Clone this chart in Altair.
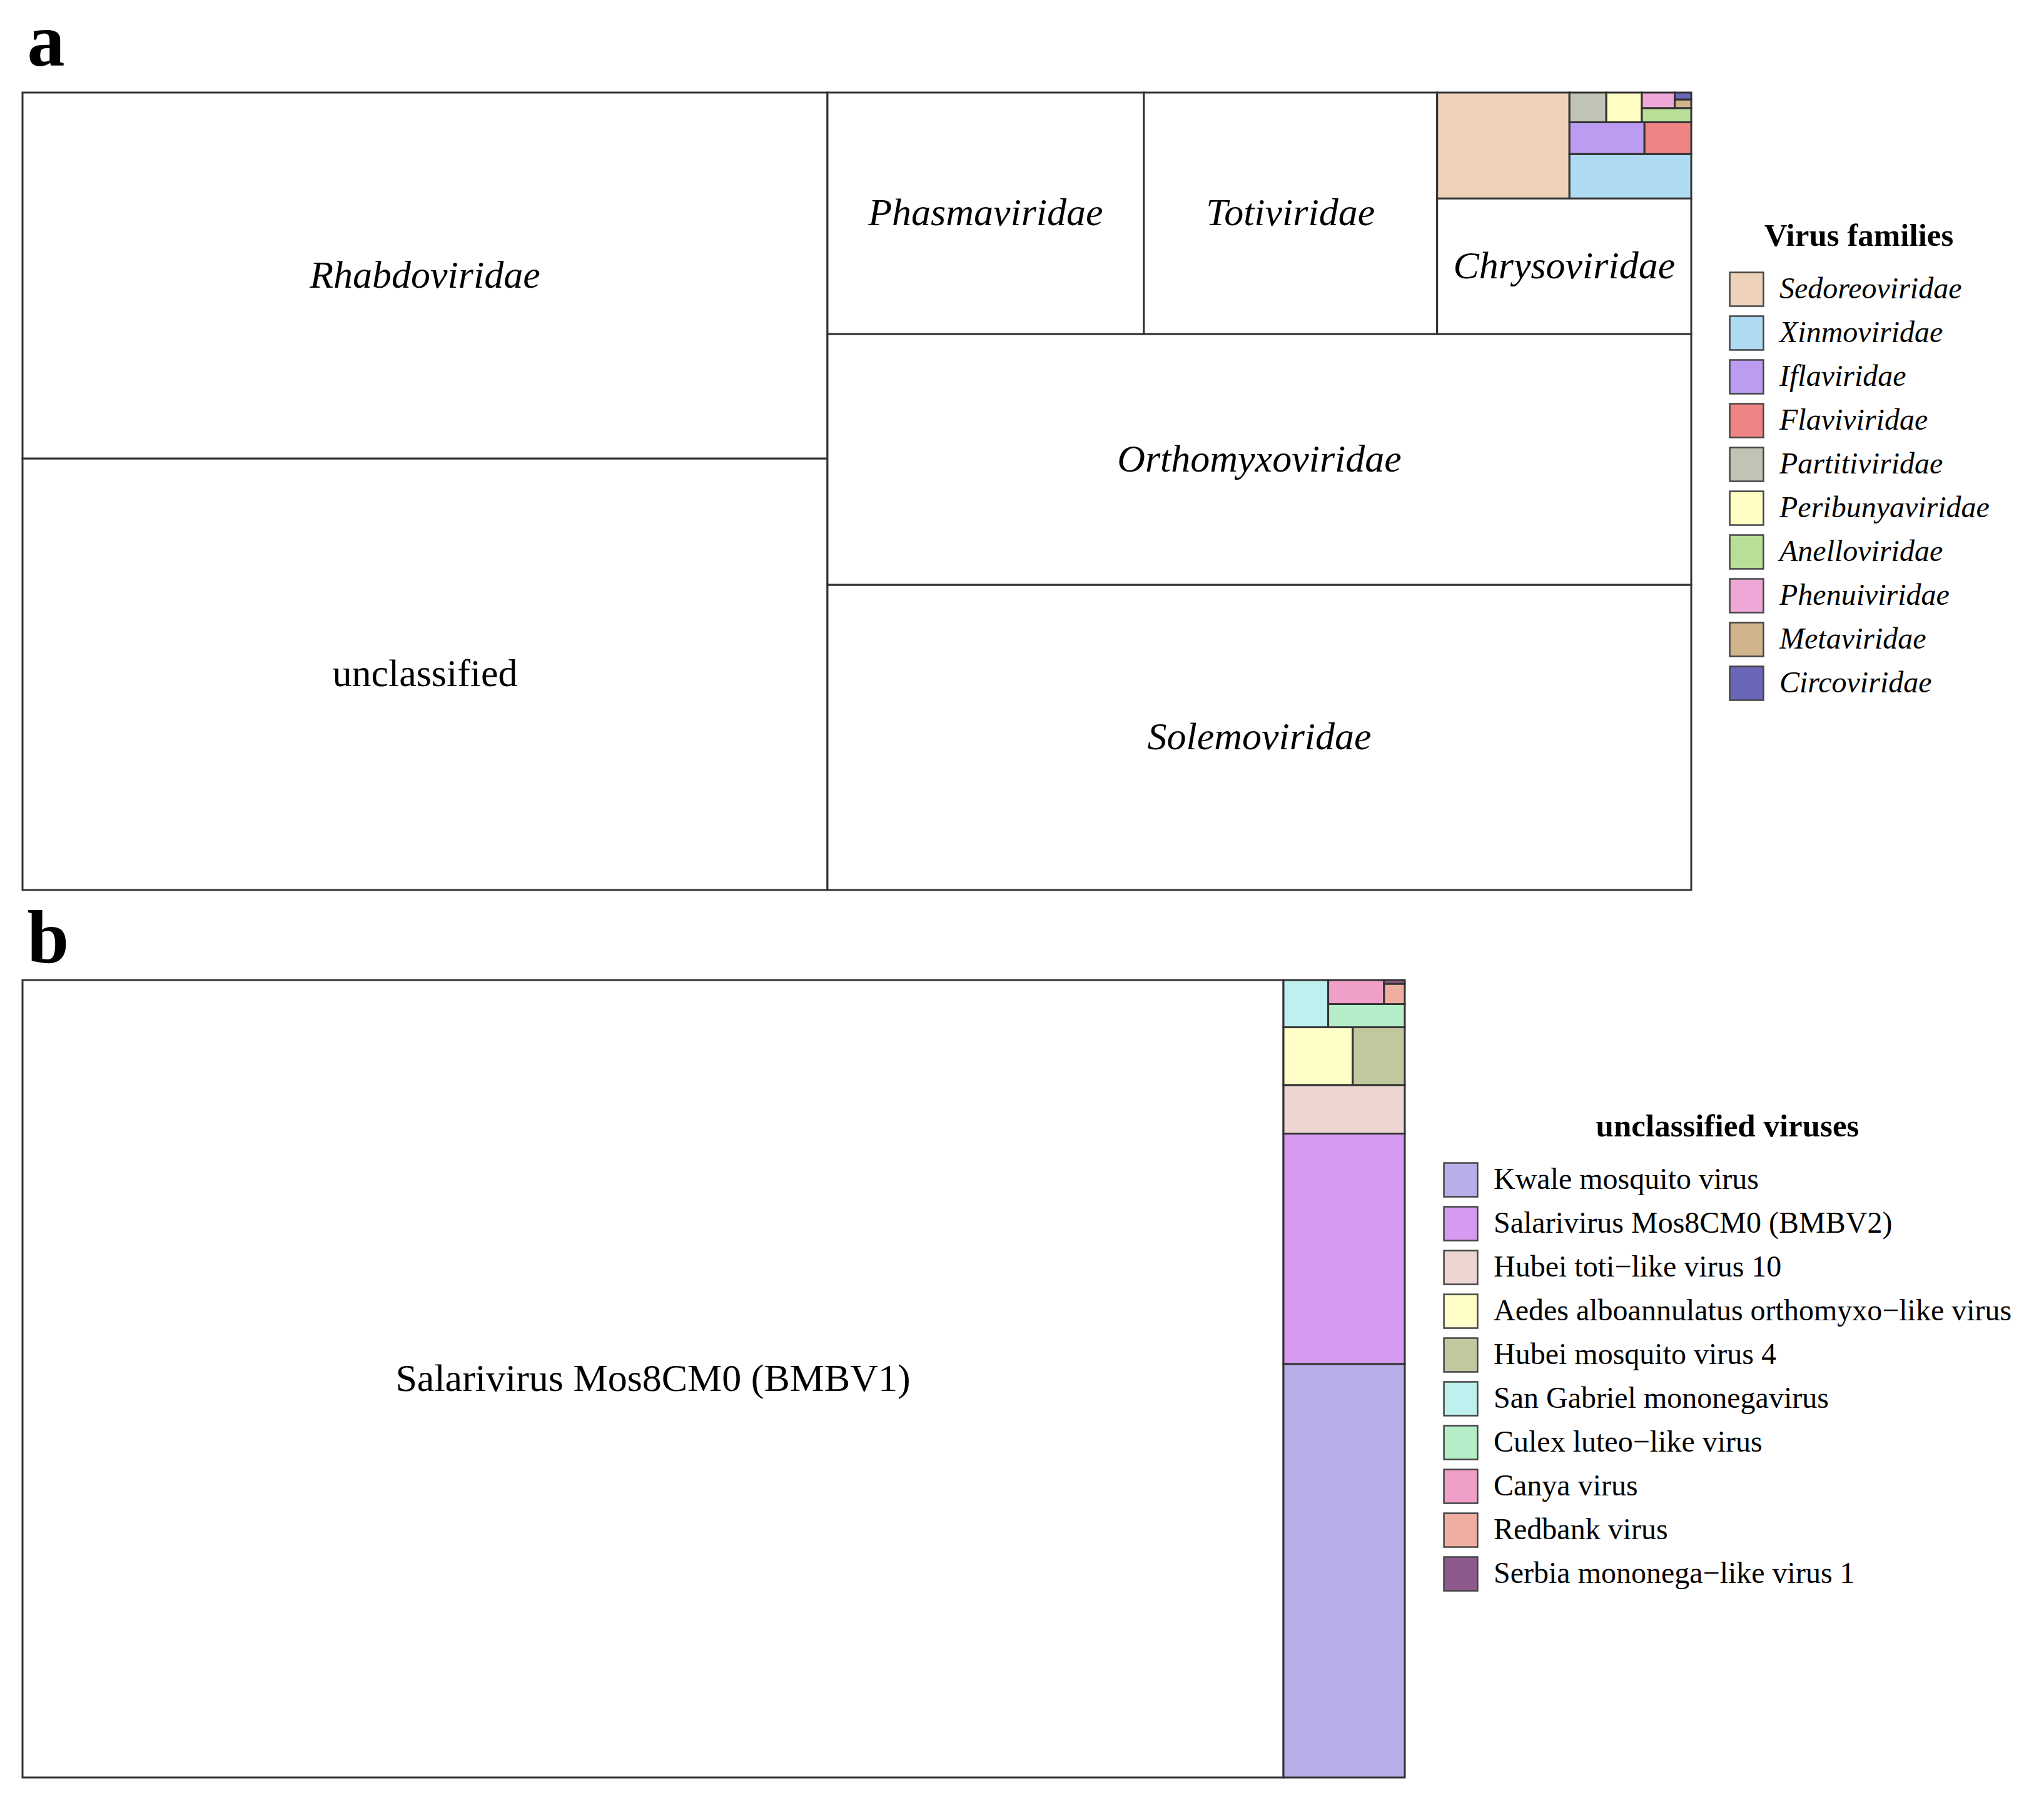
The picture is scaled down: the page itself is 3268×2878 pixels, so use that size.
import altair as alt
import pandas as pd

SERIF = "Liberation Serif"
LINE = "#333333"

# ---------------- Panel a: virus families (relative abundance) ----------------
fam_names = ["unclassified", "Rhabdoviridae", "Solemoviridae", "Orthomyxoviridae",
             "Phasmaviridae", "Totiviridae", "Chrysoviridae", "Sedoreoviridae",
             "Xinmoviridae", "Iflaviridae", "Flaviviridae", "Partitiviridae",
             "Peribunyaviridae", "Anelloviridae", "Phenuiviridae", "Metaviridae",
             "Circoviridae"]
fam_values = [8880, 7529, 6739, 5538, 1953, 1810, 881, 358,
              138, 61, 38, 28, 27, 18, 13, 3.6, 2.9]

legend_a = ["Sedoreoviridae", "Xinmoviridae", "Iflaviridae", "Flaviviridae",
            "Partitiviridae", "Peribunyaviridae", "Anelloviridae", "Phenuiviridae",
            "Metaviridae", "Circoviridae"]
colors_a = ["#EDD1B9", "#AEDAF2", "#BB9CF0", "#F08484", "#C0C4B4",
            "#FFFDC4", "#B9DE98", "#EEA8D8", "#D2B48C", "#6B67B8"]
italic_labels_a = ["Rhabdoviridae", "Solemoviridae", "Orthomyxoviridae",
                   "Phasmaviridae", "Totiviridae", "Chrysoviridae"]
plain_labels_a = ["unclassified"]

# nesting of the treemap: "h" = side by side (left to right), "v" = stacked (bottom to top)
tree_a = ("h", [("v", ["unclassified", "Rhabdoviridae"]),
                ("v", ["Solemoviridae", "Orthomyxoviridae",
                       ("h", ["Phasmaviridae", "Totiviridae",
                              ("v", ["Chrysoviridae",
                                     ("h", ["Sedoreoviridae",
                                            ("v", ["Xinmoviridae",
                                                   ("h", ["Iflaviridae", "Flaviviridae"]),
                                                   ("h", ["Partitiviridae", "Peribunyaviridae",
                                                          ("v", ["Anelloviridae",
                                                                 ("h", ["Phenuiviridae",
                                                                        ("v", ["Metaviridae",
                                                                               "Circoviridae"])])])])])])])])])])

# ---------------- Panel b: unclassified viruses ----------------
unc_names = ["Salarivirus Mos8CM0 (BMBV1)", "Kwale mosquito virus",
             "Salarivirus Mos8CM0 (BMBV2)", "Hubei toti\u2212like virus 10",
             "Aedes alboannulatus orthomyxo\u2212like virus", "Hubei mosquito virus 4",
             "San Gabriel mononegavirus", "Culex luteo\u2212like virus", "Canya virus",
             "Redbank virus", "Serbia mononega\u2212like virus 1"]
unc_values = [26127, 1304, 726, 153, 104, 78, 55, 46, 35, 11, 2]

legend_b = unc_names[1:]
colors_b = ["#B8AEE8", "#D69BF0", "#EDD5D2", "#FFFDC8", "#C2C89E",
            "#BDF0EE", "#B5EDC8", "#F0A0C8", "#EFAFA0", "#8E5A8E"]
plain_labels_b = ["Salarivirus Mos8CM0 (BMBV1)"]

tree_b = ("h", ["Salarivirus Mos8CM0 (BMBV1)",
                ("v", ["Kwale mosquito virus", "Salarivirus Mos8CM0 (BMBV2)",
                       "Hubei toti\u2212like virus 10",
                       ("h", ["Aedes alboannulatus orthomyxo\u2212like virus",
                              "Hubei mosquito virus 4"]),
                       ("h", ["San Gabriel mononegavirus",
                              ("v", ["Culex luteo\u2212like virus",
                                     ("h", ["Canya virus",
                                            ("v", ["Redbank virus",
                                                   "Serbia mononega\u2212like virus 1"])])])])])])


# ---------------- slice-and-dice treemap layout computed from the values ----------------
def node_total(node, vals):
    if isinstance(node, str):
        return vals[node]
    return sum(node_total(c, vals) for c in node[1])


def layout(node, vals, x0, y0, x1, y1, out):
    if isinstance(node, str):
        out.append({"name": node, "x": x0, "x2": x1, "y": y0, "y2": y1,
                    "cx": (x0 + x1) / 2, "cy": (y0 + y1) / 2})
        return
    d, kids = node
    tot = node_total(node, vals)
    pos = x0 if d == "h" else y0
    for k in kids:
        frac = node_total(k, vals) / tot
        if d == "h":
            nxt = pos + frac * (x1 - x0)
            layout(k, vals, pos, y0, nxt, y1, out)
        else:
            nxt = pos + frac * (y1 - y0)
            layout(k, vals, x0, pos, x1, nxt, out)
        pos = nxt


def treemap_df(names, values, tree):
    vals = dict(zip(names, values))
    out = []
    layout(tree, vals, 0.0, 0.0, 1.0, 1.0, out)
    return pd.DataFrame(out)


def panel(df, legend_names, legend_colors, italic_labels, plain_labels, title,
          letter, w, h, leg_x, leg_y, leg_italic, title_offset):
    sx = alt.Scale(domain=[0, 1], nice=False, zero=False)
    sy = alt.Scale(domain=[0, 1], nice=False, zero=False)
    base = alt.Chart(df)
    enc = dict(x=alt.X("x:Q", scale=sx, axis=None), x2="x2:Q",
               y=alt.Y("y:Q", scale=sy, axis=None), y2="y2:Q")
    white = base.transform_filter(
        alt.FieldOneOfPredicate(field="name", oneOf=italic_labels + plain_labels)
    ).mark_rect(fill="white", stroke=LINE, strokeWidth=3).encode(**enc)
    colored = base.transform_filter(
        alt.FieldOneOfPredicate(field="name", oneOf=legend_names)
    ).mark_rect(stroke=LINE, strokeWidth=3, opacity=1).encode(
        color=alt.Color("name:N",
                        scale=alt.Scale(domain=legend_names, range=legend_colors),
                        legend=alt.Legend(
                            title=title, orient="none", legendX=leg_x, legendY=leg_y,
                            titleFont=SERIF, titleFontSize=51, titleFontWeight="bold",
                            titleColor="black", titleAnchor="middle", titlePadding=30,
                            titleLimit=0,
                            labelFont=SERIF, labelFontSize=48,
                            labelFontStyle="italic" if leg_italic else "normal",
                            labelColor="black", labelOffset=24, labelLimit=0,
                            symbolType="square", symbolSize=2900,
                            symbolStrokeColor="#444444", symbolStrokeWidth=2.5,
                            symbolOpacity=1, rowPadding=5, padding=0)),
        **enc)
    layers = [white, colored]
    if italic_labels:
        layers.append(base.transform_filter(
            alt.FieldOneOfPredicate(field="name", oneOf=italic_labels)
        ).mark_text(font=SERIF, fontSize=62, fontStyle="italic", color="black",
                    baseline="middle", align="center").encode(
            x=alt.X("cx:Q", scale=sx, axis=None),
            y=alt.Y("cy:Q", scale=sy, axis=None), text="name:N"))
    if plain_labels:
        layers.append(base.transform_filter(
            alt.FieldOneOfPredicate(field="name", oneOf=plain_labels)
        ).mark_text(font=SERIF, fontSize=62, color="black",
                    baseline="middle", align="center").encode(
            x=alt.X("cx:Q", scale=sx, axis=None),
            y=alt.Y("cy:Q", scale=sy, axis=None), text="name:N"))
    return alt.layer(*layers).properties(
        width=w, height=h,
        title=alt.TitleParams(letter, anchor="start", font=SERIF, fontSize=120,
                              fontWeight="bold", color="black", dx=9,
                              offset=title_offset))


df_a = treemap_df(fam_names, fam_values, tree_a)
df_b = treemap_df(unc_names, unc_values, tree_b)

pa = panel(df_a, legend_a, colors_a, italic_labels_a, plain_labels_a, "Virus families",
           "a", 2668, 1275, 2728, 205, True, 17)
pb = panel(df_b, legend_b, colors_b, [], plain_labels_b, "unclassified viruses",
           "b", 2210, 1275, 2271, 210, False, 2)

chart = alt.vconcat(pa, pb, spacing=17).resolve_scale(
    color="independent", x="independent", y="independent"
).resolve_legend(color="independent").properties(
    padding={"left": 26, "top": 0, "right": 10, "bottom": 0}
).configure_view(stroke=None).configure(background="white")

chart.save("out.html", embed_options={"renderer": "svg", "actions": False})
